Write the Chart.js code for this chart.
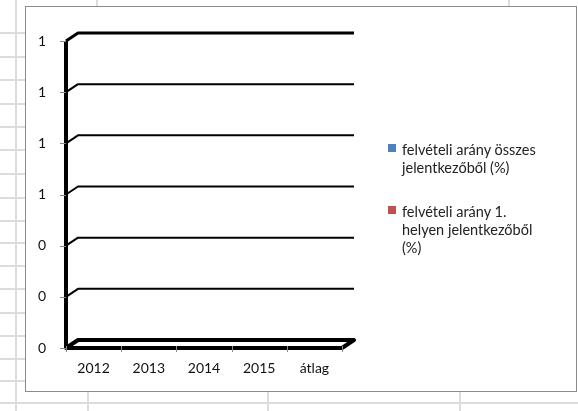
<!DOCTYPE html>
<html>
<head>
<meta charset="utf-8">
<script src="https://cdn.jsdelivr.net/npm/chart.js@4/dist/chart.umd.min.js"></script>
<style>
  html, body { margin: 0; padding: 0; background: #fff; }
  body { position: relative; width: 578px; height: 411px; overflow: hidden; font-family: Lato, sans-serif; }
  .gl { position: absolute; background: #dcdcdc; }
  #box { position: absolute; left: 25px; top: 6px; width: 550px; height: 384px; border: 1px solid #8c8c8c; background: #fff; }
  #legend { position: absolute; left: 362px; top: 134px; width: 155px; font: 14.5px Lato, sans-serif; color: #222; }
  .item { display: flex; align-items: flex-start; margin-bottom: 26px; line-height: 18px; }
  .sw { width: 8px; height: 8px; margin: 3px 6px 0 0; flex: none; }
</style>
</head>
<body>
<div id="box">
  <canvas id="chart" width="550" height="384"></canvas>
  <div id="legend"></div>
</div>
<script>
// Data (all bars are empty / zero)
const categories = ['2012', '2013', '2014', '2015', 'átlag'];
const seriesNames = ['felvételi arány összes jelentkezőből (%)', 'felvételi arány 1. helyen jelentkezőből (%)'];
const osszesArany = [0, 0, 0, 0, 0];
const elsoHelyArany = [0, 0, 0, 0, 0];
const seriesColors = ['#4F81BD', '#C0504D'];
const yMax = 1.2;
const yStep = 0.2;

// spreadsheet grid behind the chart object
const rowLines = [32, 56, 79, 103, 126, 149, 173, 197, 220, 242, 265, 288, 312, 335, 358, 380];
function gridLine(l, t, w, h) {
  const d = document.createElement('div');
  d.className = 'gl';
  d.style.cssText = `left:${l}px;top:${t}px;width:${w}px;height:${h}px`;
  document.body.insertBefore(d, document.body.firstChild);
}
rowLines.forEach(y => gridLine(0, y, 25, 2));
gridLine(0, 402, 578, 2);
gridLine(15, 0, 2, 411);
[87, 267, 459].forEach(x => gridLine(x, 392, 2, 19));
[96, 508].forEach(x => gridLine(x, 0, 2, 6));

// 3D walls/floor like the Excel chart
const wall3d = {
  id: 'wall3d',
  beforeDatasetsDraw(chart) {
    const { ctx, chartArea: a, scales: { x, y } } = chart;
    const dx = 12, dy = 8;
    ctx.save();
    ctx.strokeStyle = '#000';
    ctx.lineJoin = 'round';
    // back wall gridlines
    y.ticks.forEach((t, i) => {
      if (i === 0) return;
      const py = y.getPixelForValue(t.value);
      ctx.lineWidth = i === y.ticks.length - 1 ? 3 : 2;
      ctx.beginPath();
      ctx.moveTo(a.left, py);
      ctx.lineTo(a.left + dx, py - dy);
      ctx.lineTo(a.right + dx, py - dy);
      ctx.stroke();
    });
    // side wall
    ctx.lineWidth = 4;
    ctx.beginPath();
    ctx.moveTo(a.left, a.top);
    ctx.lineTo(a.left, a.bottom);
    ctx.stroke();
    // floor
    ctx.lineWidth = 4;
    ctx.beginPath();
    ctx.moveTo(a.left, a.bottom);
    ctx.lineTo(a.right, a.bottom);
    ctx.lineTo(a.right + dx, a.bottom - dy);
    ctx.lineTo(a.left + dx, a.bottom - dy);
    ctx.closePath();
    ctx.stroke();
    // tick marks
    ctx.strokeStyle = '#888';
    ctx.lineWidth = 1;
    y.ticks.forEach(t => {
      const py = Math.round(y.getPixelForValue(t.value)) + 0.5;
      ctx.beginPath();
      ctx.moveTo(a.left - 6, py);
      ctx.lineTo(a.left, py);
      ctx.stroke();
    });
    for (let i = 0; i <= categories.length; i++) {
      const px = Math.round(x.getPixelForValue(i - 0.5)) + 0.5;
      ctx.beginPath();
      ctx.moveTo(px, a.bottom - 2);
      ctx.lineTo(px, a.bottom + 4);
      ctx.stroke();
    }
    ctx.restore();
  }
};

const chart = new Chart(document.getElementById('chart'), {
  type: 'bar',
  data: {
    labels: categories,
    datasets: [
      { label: seriesNames[0], data: osszesArany, backgroundColor: seriesColors[0] },
      { label: seriesNames[1], data: elsoHelyArany, backgroundColor: seriesColors[1] }
    ]
  },
  options: {
    responsive: false,
    animation: false,
    layout: { padding: { left: 0, right: 234, top: 34, bottom: 3 } },
    plugins: { legend: { display: false }, tooltip: { enabled: false } },
    scales: {
      x: {
        grid: { display: false },
        border: { display: false },
        ticks: { color: '#111', font: { family: 'Lato', size: 14 }, padding: 4, maxRotation: 0 },
        afterFit: s => { s.height = 40; }
      },
      y: {
        min: 0,
        max: yMax,
        grid: { display: false },
        border: { display: false },
        ticks: {
          stepSize: yStep,
          color: '#111',
          font: { family: 'Lato', size: 14 },
          padding: 12,
          callback: v => Math.round(v)
        },
        afterFit: s => { s.width = 40; }
      }
    }
  },
  plugins: [wall3d]
});

// legend as text next to the plot
const legendEl = document.getElementById('legend');
chart.data.datasets.forEach(ds => {
  const item = document.createElement('div');
  item.className = 'item';
  item.innerHTML = `<span class="sw" style="background:${ds.backgroundColor}"></span><span>${ds.label}</span>`;
  legendEl.appendChild(item);
});
</script>
</body>
</html>
